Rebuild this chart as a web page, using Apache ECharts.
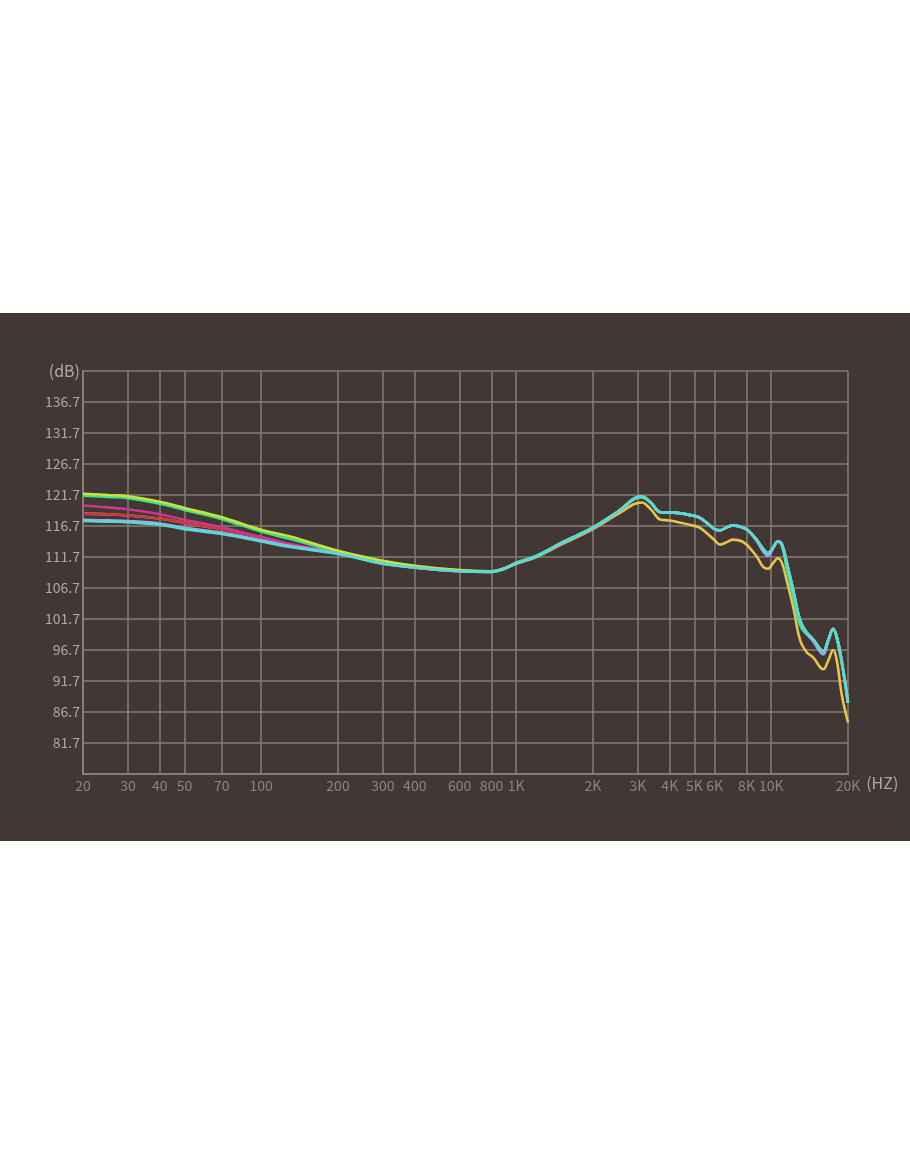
<!DOCTYPE html>
<html>
<head>
<meta charset="utf-8">
<script src="https://cdn.jsdelivr.net/npm/echarts@6/dist/echarts.min.js"></script>
<style>
  html, body { margin: 0; padding: 0; background: #ffffff; width: 910px; height: 1155px; overflow: hidden; }
  #panel { position: absolute; left: 0; top: 313px; width: 910px; height: 528px; background: #413735; }
  #chart { width: 910px; height: 528px; }
</style>
</head>
<body>
<div id="panel"><div id="chart"></div></div>
<script>
// ---- data ----
const freqs = [20,25,30,40,50,70,100,130,200,300,400,600,800,900,1000,1200,1500,2000,2500,3100,3350,3700,4000,4900,5260,6000,6300,6700,7100,7700,8100,8800,9300,9700,10200,10600,11000,11500,12200,13000,13800,14600,16000,16700,17500,18100,18900,20000];

const cyanDb = [117.5,117.4,117.3,116.9,116.2,115.4,114.2,113.3,112.2,110.6,110.0,109.4,109.3,109.8,110.7,
  111.8,113.9,116.4,119.0,121.5,120.6,118.9,118.9,118.4,118.0,116.2,116.0,116.5,116.8,116.5,116.0,114.4,113.0,112.3,113.3,114.2,113.8,110.8,106.3,101.4,99.5,98.4,96.5,98.2,100.1,98.7,94.9,88.2];

const lavenderDb = [117.7,117.6,117.5,117.1,116.4,115.6,114.4,113.5,112.3,110.6,110.0,109.4,109.3,109.8,110.7,
  111.8,113.9,116.4,119.0,121.5,120.6,118.9,118.9,118.4,118.0,116.2,116.0,116.5,116.8,116.5,116.0,114.2,112.6,111.9,113.2,114.2,113.8,110.8,106.3,101.4,99.4,98.1,96.0,98.0,100.1,98.7,94.9,88.2];

const limeDb = [121.9,121.7,121.5,120.6,119.6,118.1,116.1,115.0,112.7,111.1,110.3,109.6,109.4,109.9,110.7,
  111.8,113.9,116.4,119.0,121.5,120.6,118.9,118.9,118.4,118.0,116.2,116.0,116.5,116.8,116.5,116.0,114.4,113.0,112.3,113.3,114.2,113.8,110.8,106.3,101.4,99.5,98.4,96.5,98.2,100.1,98.7,94.9,88.2];

const greenDb = [121.6,121.4,121.2,120.3,119.3,117.8,115.8,114.6,112.5,110.8,110.1,109.5,109.4,109.9,110.8,
  111.9,114.0,116.5,119.0,121.3,120.5,118.9,118.9,118.4,118.0,116.2,116.0,116.5,116.8,116.5,116.0,114.4,113.0,112.3,113.3,114.2,113.6,109.8,105.3,100.6,99.2,98.3,96.5,98.2,100.0,98.4,94.5,88.6];

const magentaDb = [120.0,119.7,119.4,118.6,117.7,116.5,114.9,113.8,112.3,110.7,110.0,109.4,109.3,109.8,110.7,
  111.8,113.9,116.4,119.0,121.5,120.6,118.9,118.9,118.4,118.0,116.2,116.0,116.5,116.8,116.5,116.0,114.4,113.0,112.3,113.3,114.2,113.8,110.8,106.3,101.4,99.5,98.4,96.5,98.2,100.1,98.7,94.9,88.2];

const redDb = [118.7,118.6,118.4,117.9,117.2,116.2,114.9,113.7,112.3,110.7,110.0,109.4,109.3,109.8,110.7,
  111.8,113.9,116.4,119.0,121.5,120.6,118.9,118.9,118.4,118.0,116.2,116.0,116.5,116.8,116.5,116.0,114.4,113.0,112.3,113.3,114.2,113.8,110.8,106.3,101.4,99.5,98.4,96.5,98.2,100.1,98.7,94.9,88.2];

const yellowDb = [118.7,118.6,118.4,117.9,117.2,116.2,114.9,113.7,112.3,110.7,110.0,109.4,109.3,109.8,110.6,
  111.7,113.7,116.2,118.6,120.5,119.5,117.7,117.6,116.8,116.4,114.4,113.7,114.1,114.5,114.2,113.5,111.7,110.1,109.8,110.8,111.5,110.8,107.9,103.6,98.2,96.3,95.5,93.6,94.9,96.7,94.9,89.5,85.0];

const xTickValues = [20,30,40,50,70,100,200,300,400,600,800,1000,2000,3000,4000,5000,6000,8000,10000,20000];
const xTickLabels = ['20','30','40','50','70','100','200','300','400','600','800','1K','2K','3K','4K','5K','6K','8K','10K','20K'];
const yTickLabels = ['','81.7','86.7','91.7','96.7','101.7','106.7','111.7','116.7','121.7','126.7','131.7','136.7','(dB)'];
const yOffset = 1.7; // axis runs 76.7 .. 141.7 dB; plotted as 75 .. 140

// ---- chart ----
const gridColor = '#877d79';
const fontFam = '"Noto Sans CJK SC", "Noto Sans", sans-serif';

function mk(name, vals, color) {
  return {
    name: name, type: 'line', smooth: 0.4, symbol: 'none',
    lineStyle: { color: color, width: 2.6 },
    itemStyle: { color: color },
    data: freqs.map((f, i) => [f, +(vals[i] - yOffset).toFixed(2)])
  };
}

const chart = echarts.init(document.getElementById('chart'), null, { renderer: 'canvas' });
chart.setOption({
  backgroundColor: 'transparent',
  animation: false,
  grid: { left: 83, right: 62, top: 58, bottom: 67, containLabel: false },
  xAxis: {
    type: 'log', logBase: 10, min: 20, max: 20000,
    name: '(HZ)', nameLocation: 'end', nameGap: 0,
    nameTextStyle: { color: '#b1a8a4', fontSize: 16, fontFamily: fontFam, verticalAlign: 'top', padding: [1, 0, 0, 0] },
    axisLine: { show: true, lineStyle: { color: gridColor, width: 2 } },
    axisTick: { show: false, customValues: xTickValues },
    axisLabel: {
      customValues: xTickValues, color: '#8d8480', fontSize: 14, fontFamily: fontFam, margin: 5,
      formatter: function (v) { const i = xTickValues.indexOf(Math.round(v)); return i >= 0 ? xTickLabels[i] : ''; }
    },
    splitLine: { show: true, lineStyle: { color: gridColor, width: 1.5 } }
  },
  yAxis: {
    type: 'value', min: 75, max: 140, interval: 5,
    axisLine: { show: true, lineStyle: { color: gridColor, width: 2 } },
    axisTick: { show: false },
    axisLabel: {
      color: '#b1a8a4', fontSize: 14, fontFamily: fontFam, margin: 3,
      formatter: function (v) {
        const i = Math.round((v - 75) / 5);
        const t = yTickLabels[i] || '';
        return i === yTickLabels.length - 1 ? '{u|' + t + '}' : t;
      },
      rich: { u: { fontSize: 16, color: '#b1a8a4', fontFamily: fontFam } }
    },
    splitLine: { show: true, lineStyle: { color: gridColor, width: 1.5 } }
  },
  series: [
    mk('yellow', yellowDb, '#e8c44c'),
    mk('red', redDb, '#cc3344'),
    mk('magenta', magentaDb, '#c7388f'),
    mk('green', greenDb, '#3ddf8a'),
    mk('lime', limeDb, '#c6e33a'),
    mk('lavender', lavenderDb, '#a8a4f0'),
    mk('cyan', cyanDb, '#56dad4')
  ]
});
</script>
</body>
</html>
